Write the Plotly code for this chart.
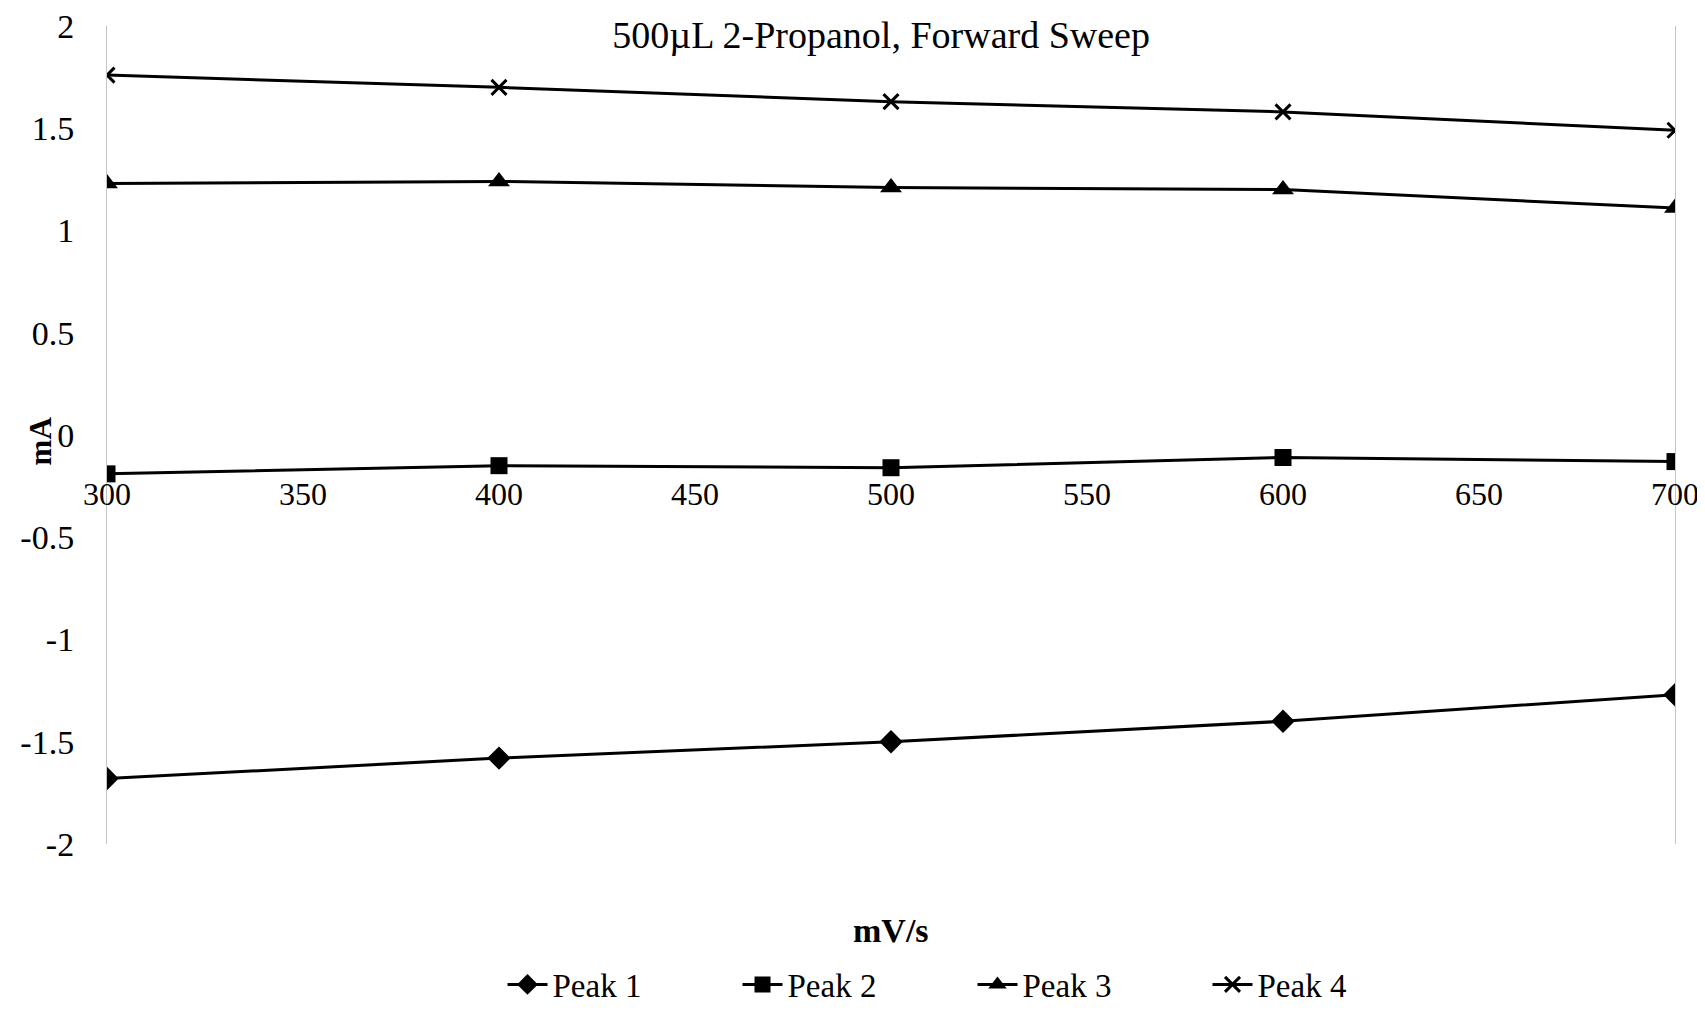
import plotly.graph_objects as go

scan_rate = [300, 400, 500, 600, 700]
peak1 = [-1.68, -1.58, -1.50, -1.40, -1.27]
peak2 = [-0.19, -0.15, -0.16, -0.11, -0.13]
peak3 = [1.23, 1.24, 1.21, 1.20, 1.11]
peak4 = [1.76, 1.70, 1.63, 1.58, 1.49]
series_names = ["Peak 1", "Peak 2", "Peak 3", "Peak 4"]
y_ticks = [2, 1.5, 1, 0.5, 0, -0.5, -1, -1.5, -2]
x_ticks = [300, 350, 400, 450, 500, 550, 600, 650, 700]

FONT = "Liberation Serif"
W, H = 1705, 1012
L, R, T, B = 99, 38, 18, 176
S = 1705 / 1568
PH = H - T - B
PW = W - L - R

fig = go.Figure()
symbols = ["diamond", "square", "triangle-up", "x-thin-open"]
sizes = [18, 17, 19, 15]
for name, ys, sym, sz in zip(series_names, [peak1, peak2, peak3, peak4], symbols, sizes):
    fig.add_trace(go.Scatter(
        x=scan_rate, y=ys, name=name, mode="lines+markers",
        line=dict(color="black", width=3),
        marker=dict(symbol=sym, size=sz, color="black",
                    line=dict(color="black", width=3 if sym.startswith("x") else 0)),
    ))

fig.update_layout(
    width=W, height=H,
    margin=dict(l=L, r=R, t=T, b=B, autoexpand=False),
    paper_bgcolor="white", plot_bgcolor="white",
    font=dict(family=FONT, color="black", size=34),
    title=dict(text="500µL 2-Propanol, Forward Sweep", x=803 * S / W, xanchor="center",
               y=1 - 27 / H, yanchor="middle", pad=dict(t=0, b=0), font=dict(size=38, family=FONT),
               automargin=False),
    showlegend=True,
    legend=dict(orientation="h", x=(887 * S - L) / PW, xanchor="center",
                y=-(898 * S - (H - B)) / PH, yanchor="middle",
                font=dict(size=33, family=FONT),
                entrywidth=180, entrywidthmode="pixels", itemwidth=40),
    xaxis=dict(range=[300, 700], tickvals=x_ticks, ticktext=[str(v) for v in x_ticks],
               showgrid=False, zeroline=False, showline=False, automargin=False,
               anchor="free", position=0.5, ticks="", ticklabelstandoff=37,
               ticklabeloverflow="allow",
               tickfont=dict(size=32, family=FONT)),
    yaxis=dict(range=[-2, 2], tickvals=y_ticks, ticktext=[("%g" % v) for v in y_ticks],
               showgrid=False, zeroline=False, showline=True, linecolor="#c4c4c4",
               linewidth=1, mirror=True, ticks="", ticklabelstandoff=25, automargin=False,
               ticklabeloverflow="allow",
               tickfont=dict(size=34, family=FONT)),
    annotations=[
        dict(text="<b>mV/s</b>", xref="paper", yref="paper", x=(812 * S - L) / PW,
             y=-(848 * S - (H - B)) / PH, showarrow=False,
             xanchor="center", yanchor="middle", font=dict(size=34, family=FONT)),
        dict(text="<b>mA</b>", xref="paper", yref="paper", x=-(L - 30 * S) / PW,
             y=(H - B - 398 * S) / PH, showarrow=False, textangle=-90,
             xanchor="center", yanchor="middle", font=dict(size=31, family=FONT)),
    ],
)

fig.write_html("out.html")
